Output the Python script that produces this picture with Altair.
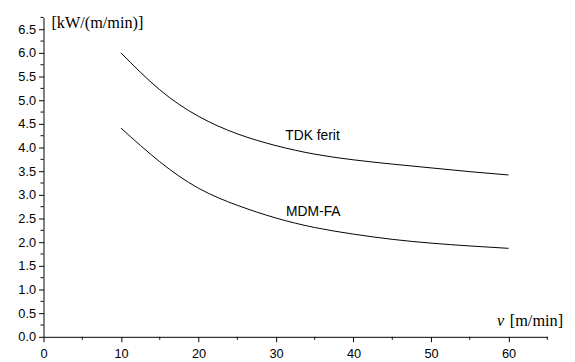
import altair as alt
import pandas as pd

# speed v [m/min]
v = [10, 15, 20, 25, 30, 35, 40, 45, 50, 55, 60]
# specific power [kW/(m/min)]
tdk = [6.00, 5.22, 4.66, 4.29, 4.04, 3.86, 3.74, 3.65, 3.57, 3.49, 3.42]
mdm = [4.41, 3.70, 3.14, 2.78, 2.51, 2.31, 2.17, 2.06, 1.98, 1.92, 1.87]

series_names = ["TDK ferit", "MDM-FA"]
label_v = [31.2, 31.3]
label_p = [4.15, 2.55]

y_major = [i * 0.5 for i in range(14)]
y_minor = [0.25 + i * 0.5 for i in range(14)]
x_major = [0, 10, 20, 30, 40, 50, 60]
x_minor = [5, 15, 25, 35, 45, 55, 65]

rows = []
for name, vals in zip(series_names, [tdk, mdm]):
    for xv, yv in zip(v, vals):
        rows.append({"series": name, "v": xv, "p": yv})
df = pd.DataFrame(rows)
labels = pd.DataFrame({"text": series_names, "v": label_v, "p": label_p})
ymin_df = pd.DataFrame({"p": y_minor})
xmin_df = pd.DataFrame({"v": x_minor})

xscale = alt.Scale(domain=[0, 65], nice=False, zero=False)
yscale = alt.Scale(domain=[0, 6.75], nice=False, zero=False)

xaxis = alt.Axis(
    values=x_major, format="d", tickSize=5,
    title=None, grid=False, domain=True, domainColor="black", tickColor="black",
    labelFont="Liberation Sans", labelFontSize=13, labelColor="black",
    labelPadding=6, labelFlush=False, labelOverlap=False,
)
yaxis = alt.Axis(
    values=y_major, format=".1f", tickSize=5,
    title=None, grid=False, domain=True, domainColor="black", tickColor="black",
    labelFont="Liberation Sans", labelFontSize=13, labelColor="black",
    labelPadding=3, labelFlush=False, labelOverlap=False,
)

lines = alt.Chart(df).mark_line(color="black", strokeWidth=1, interpolate="natural").encode(
    x=alt.X("v:Q", scale=xscale, axis=xaxis),
    y=alt.Y("p:Q", scale=yscale, axis=yaxis),
    detail="series:N",
)

yminor = alt.Chart(ymin_df).mark_rule(color="black", strokeWidth=1).encode(
    y=alt.Y("p:Q", scale=yscale, axis=yaxis),
    x=alt.value(-3), x2=alt.value(0),
)
xminor = alt.Chart(xmin_df).mark_rule(color="black", strokeWidth=1).encode(
    x=alt.X("v:Q", scale=xscale, axis=xaxis),
    y=alt.value(324), y2=alt.value(327),
)

text = alt.Chart(labels).mark_text(
    align="left", baseline="alphabetic", font="Liberation Sans", fontSize=14, color="black"
).encode(
    x=alt.X("v:Q", scale=xscale, axis=xaxis),
    y=alt.Y("p:Q", scale=yscale, axis=yaxis),
    text="text:N",
)

one = pd.DataFrame({"a": [0]})
ytitle = alt.Chart(one).mark_text(
    align="left", baseline="alphabetic", font="Liberation Serif", fontSize=16.5, color="black"
).encode(x=alt.value(8), y=alt.value(11), text=alt.value("[kW/(m/min)]"))

xtitle_v = alt.Chart(one).mark_text(
    align="left", baseline="alphabetic", font="Liberation Serif", fontSize=16.5,
    fontStyle="italic", color="black"
).encode(x=alt.value(460), y=alt.value(313), text=alt.value("v"))

xtitle_u = alt.Chart(one).mark_text(
    align="left", baseline="alphabetic", font="Liberation Serif", fontSize=16.5, color="black"
).encode(x=alt.value(473), y=alt.value(313), text=alt.value("[m/min]"))

chart = alt.layer(lines, yminor, xminor, text, ytitle, xtitle_v, xtitle_u).properties(
    width=511, height=324,
    autosize=alt.AutoSizeParams(type="none"),
    padding={"left": 36, "top": 7, "right": 20, "bottom": 23},
    background="white",
).configure_view(stroke=None)

chart.save("out.html", embed_options={"renderer": "svg", "actions": False})
